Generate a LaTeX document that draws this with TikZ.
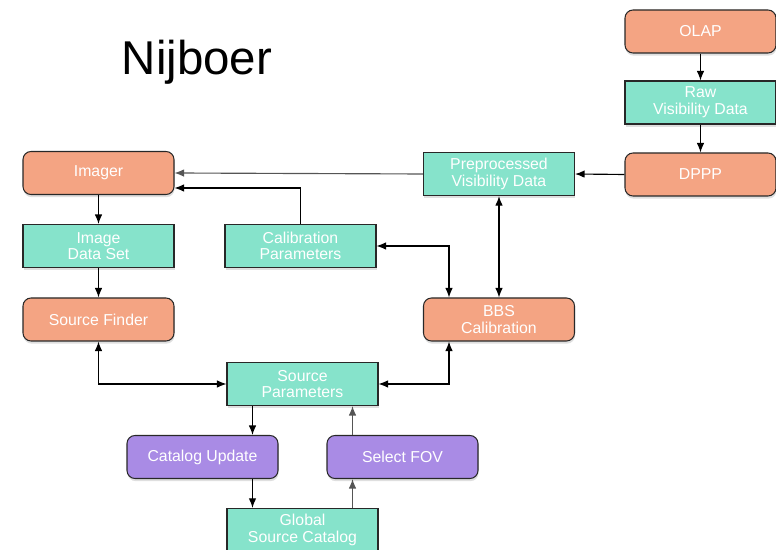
\documentclass[tikz,border=0pt]{standalone}
\usepackage{fontspec}
\setmainfont{Liberation Sans}
\usepackage{xcolor}
\usepackage{tikz}
\usetikzlibrary{shapes,arrows,arrows.meta,positioning,shadows}
\definecolor{stagesalmon}{RGB}{244, 164, 131}
\definecolor{datateal}{RGB}{134, 227, 203}
\definecolor{catpurple}{RGB}{169, 139, 229}
\definecolor{edgedark}{RGB}{40, 40, 40}
\definecolor{linegray}{RGB}{85, 85, 85}

\begin{document}
\begin{tikzpicture}
    % Styles
    \tikzstyle{basebox} = [draw=edgedark, line width=0.6pt, minimum width=3.02cm, minimum height=0.86cm, text=white, font=\fontsize{9}{9.5}\selectfont, align=center, drop shadow={shadow xshift=0.3pt, shadow yshift=-1.5pt, opacity=0.25}]
    \tikzstyle{stage} = [basebox, fill=stagesalmon, rounded corners=1.6mm]
    \tikzstyle{dataset} = [basebox, fill=datateal]
    \tikzstyle{catstep} = [basebox, fill=catpurple, rounded corners=1.6mm]
    \tikzstyle{arrow} = [line width=0.65pt, ->, >={Latex[length=1.9mm, width=1.5mm]}]
    \tikzstyle{dblarrow} = [line width=0.65pt, <->, >={Latex[length=1.9mm, width=1.5mm]}]

    \useasboundingbox (0, 0) rectangle (15.52, 11.0);

    % Title
    \node[font=\fontsize{27}{32}\selectfont] (title) at (3.94, 9.76) {Nijboer};

    % Observation side
    \node[stage] (olap) at (14.01, 10.37) {OLAP};
    \node[dataset] (rawvis) at (14.01, 8.95) {Raw\\Visibility Data};
    \node[stage] (dppp) at (14.01, 7.51) {DPPP};
    \node[dataset] (prepvis) at (9.98, 7.52) {Preprocessed\\Visibility Data};
    \node[stage] (bbs) at (9.98, 4.61) {BBS\\Calibration};
    \node[dataset] (calpar) at (6.01, 6.08) {Calibration\\Parameters};

    % Imaging side
    \node[stage] (imager) at (1.97, 7.54) {Imager};
    \node[dataset] (imgdata) at (1.97, 6.08) {Image\\Data Set};
    \node[stage] (finder) at (1.97, 4.61) {Source Finder};

    % Catalog
    \node[dataset] (srcpar) at (6.05, 3.32) {Source\\Parameters};
    \node[catstep] (catupd) at (4.05, 1.86) {Catalog Update};
    \node[catstep] (selfov) at (8.05, 1.86) {Select FOV};
    \node[dataset] (globcat) at (6.05, 0.40) {Global\\Source Catalog};

    % Directional Arrows
    \draw[arrow] (olap.south) -- (rawvis.north);
    \draw[arrow] (rawvis.south) -- (dppp.north);
    \draw[arrow] (dppp.west) -- (prepvis.east);
    \draw[arrow, linegray] (prepvis.west) -- (imager.east);
    \draw[arrow] (calpar.north) |- ([yshift=-0.3cm]imager.east);
    \draw[dblarrow] (calpar.east) -| ([xshift=-1cm]bbs.north);
    \draw[dblarrow] (prepvis.south) -- (bbs.north);
    \draw[arrow] (imager.south) -- (imgdata.north);
    \draw[arrow] (imgdata.south) -- (finder.north);
    \draw[dblarrow] (finder.south) |- (srcpar.west);
    \draw[dblarrow] ([xshift=-1cm]bbs.south) |- (srcpar.east);
    \draw[arrow] ([xshift=-1cm]srcpar.south) -- ([xshift=1cm]catupd.north);
    \draw[arrow] ([xshift=1cm]catupd.south) -- ([xshift=-1cm]globcat.north);
    \draw[arrow, linegray] ([xshift=1cm]globcat.north) -- ([xshift=-1cm]selfov.south);
    \draw[arrow, linegray] ([xshift=-1cm]selfov.north) -- ([xshift=1cm]srcpar.south);
\end{tikzpicture}
\end{document}
